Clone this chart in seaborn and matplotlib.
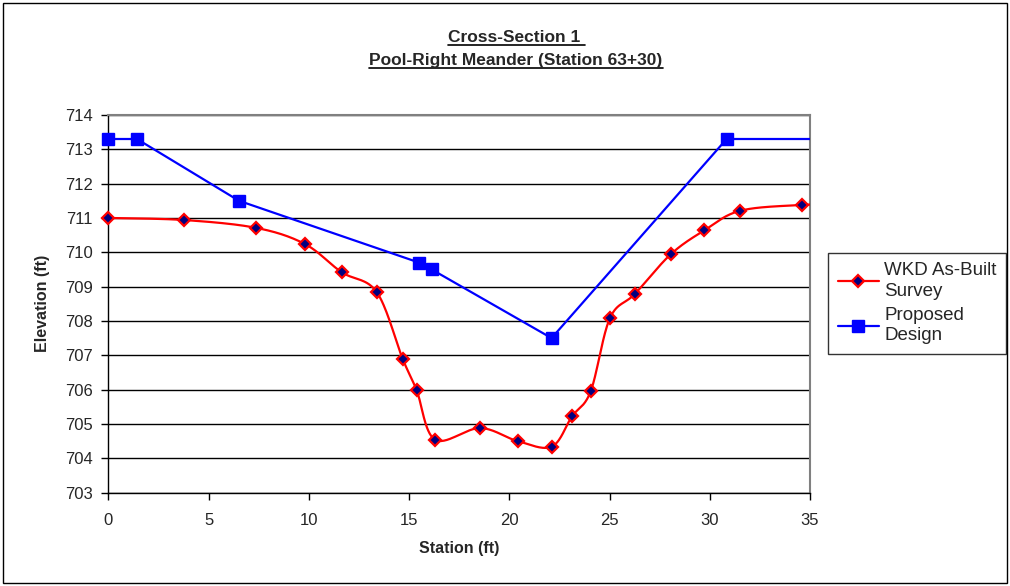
import numpy as np
import pandas as pd
import seaborn as sns
import matplotlib
matplotlib.use("Agg")
import matplotlib.pyplot as plt
from matplotlib.lines import Line2D
from matplotlib.patches import Rectangle

# ---- data ----
survey_station = [0.0, 3.78, 7.39, 9.81, 11.64, 13.39, 14.68, 15.38, 16.30, 18.54,
                  20.42, 22.12, 23.13, 24.06, 25.02, 26.27, 28.05, 29.73, 31.52, 34.58, 37.0]
survey_elev = [711.0, 710.94, 710.71, 710.24, 709.42, 708.84, 706.90, 705.98, 704.54, 704.88,
               704.50, 704.34, 705.22, 705.95, 708.08, 708.79, 709.94, 710.64, 711.21, 711.38, 711.42]
design_station = [0.0, 1.43, 6.52, 15.50, 16.13, 22.11, 30.84, 40.0]
design_elev = [713.3, 713.3, 711.5, 709.7, 709.5, 707.5, 713.3, 713.3]

x_ticks = [0, 5, 10, 15, 20, 25, 30, 35]
y_ticks = [703, 704, 705, 706, 707, 708, 709, 710, 711, 712, 713, 714]
title = "Cross-Section 1 \nPool-Right Meander (Station 63+30)"
x_label = "Station (ft)"
y_label = "Elevation (ft)"
label_survey = "WKD As-Built\nSurvey"
label_design = "Proposed\nDesign"


def excel_smooth(xs, ys, n=30):
    p = np.column_stack([xs, ys]).astype(float)
    out = []
    m = len(p)
    for i in range(m - 1):
        p0 = p[i - 1] if i > 0 else p[i]
        p1 = p[i]
        p2 = p[i + 1]
        p3 = p[i + 2] if i + 2 < m else p[i + 1]
        c1 = p1 + (p2 - p0) / 6.0
        c2 = p2 - (p3 - p1) / 6.0
        t = np.linspace(0, 1, n, endpoint=(i == m - 2))[:, None]
        seg = ((1 - t) ** 3) * p1 + 3 * ((1 - t) ** 2) * t * c1 + 3 * (1 - t) * t ** 2 * c2 + t ** 3 * p2
        out.append(seg)
    out = np.vstack(out)
    return out[:, 0], out[:, 1]


sns.set_theme(style="white")
plt.rcParams['font.family'] = ['Liberation Sans', 'DejaVu Sans']

fig = plt.figure(figsize=(10.10, 5.86), dpi=100)
ax = fig.add_axes([0.1072, 0.1594, 0.8020 - 0.1072, 0.8038 - 0.1594])

sx, sy = excel_smooth(survey_station, survey_elev)
smooth_df = pd.DataFrame({"x": sx, "y": sy})
survey_df = pd.DataFrame({"x": survey_station, "y": survey_elev})
design_df = pd.DataFrame({"x": design_station, "y": design_elev})

# gridlines
for yv in y_ticks:
    ax.axhline(yv, color="black", lw=1.0, zorder=1)

sns.lineplot(data=smooth_df, x="x", y="y", sort=False, estimator=None, ax=ax,
             color="#ff0000", lw=1.6, zorder=3)
sns.lineplot(data=design_df, x="x", y="y", sort=False, estimator=None, ax=ax,
             color="#0000ff", lw=1.6, zorder=3)
sv = survey_df[survey_df["x"] <= 35]
dv = design_df[design_df["x"] <= 35]
ax.plot(sv["x"], sv["y"], ls="none", marker="D", ms=6.5,
        mfc="#000080", mec="#ff0000", mew=1.6, zorder=4, clip_on=False)
ax.plot(dv["x"], dv["y"], ls="none", marker="s", ms=8.5,
        mfc="#0000ff", mec="#0000ff", zorder=4, clip_on=False)

ax.set_xlim(0, 35)
ax.set_ylim(703, 714)
ax.set_xticks(x_ticks)
ax.set_yticks(y_ticks)
ax.tick_params(axis="both", direction="out", length=5, width=1, color="black",
               labelsize=12, pad=6, bottom=True, left=True)
ax.tick_params(axis="x", pad=10)
ax.grid(False)

for side in ["left", "bottom"]:
    ax.spines[side].set_color("black")
    ax.spines[side].set_linewidth(1.0)
for side in ["top", "right"]:
    ax.spines[side].set_color("#808080")
    ax.spines[side].set_linewidth(1.5)

ax.set_xlabel(x_label, fontsize=11.5, fontweight="bold", labelpad=9)
ax.set_ylabel(y_label, fontsize=11.5, fontweight="bold", labelpad=11)

t1, t2 = title.split("\n")
fig.text(0.511, 1 - 37 / 586, t1, ha="center", va="center", fontsize=12.5,
         fontweight="bold")
fig.text(0.511, 1 - 60 / 586, t2, ha="center", va="center", fontsize=12.5,
         fontweight="bold")
# underline titles
fig.canvas.draw()
r = fig.canvas.get_renderer()
for txt in fig.texts:
    bb = txt.get_window_extent(r)
    y0 = (bb.y0 - 0.5) / fig.bbox.height
    fig.add_artist(Line2D([bb.x0 / fig.bbox.width, bb.x1 / fig.bbox.width], [y0, y0],
                          color="black", lw=1.2, transform=fig.transFigure))

handles = [
    Line2D([], [], color="#ff0000", lw=1.6, marker="D", ms=6.5, mfc="#000080",
           mec="#ff0000", mew=1.6),
    Line2D([], [], color="#0000ff", lw=1.6, marker="s", ms=8.5, mfc="#0000ff",
           mec="#0000ff"),
]
leg = fig.legend(handles, [label_survey, label_design], loc="upper left",
                 bbox_to_anchor=(0.820, 1 - 253 / 586), fontsize=13.5, frameon=True,
                 fancybox=False, edgecolor="black", handlelength=2.2,
                 handletextpad=0.3, borderpad=0.5, labelspacing=0.4,
                 borderaxespad=0)
leg.get_frame().set_linewidth(1.0)
for t in leg.get_texts():
    t.set_linespacing(1.25)

fig.add_artist(Rectangle((3 / 1010, 3 / 586), 1 - 6 / 1010, 1 - 6 / 586,
                         transform=fig.transFigure, fill=False, ec="black", lw=1.0))

fig.savefig("out.png", dpi=100, facecolor="white")
